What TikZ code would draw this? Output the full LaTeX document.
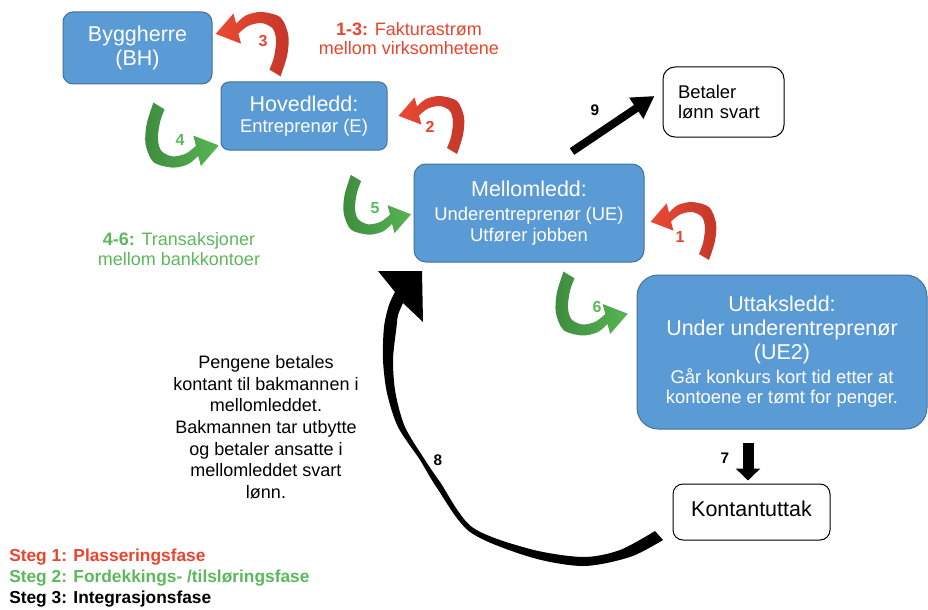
\documentclass[tikz,border=0pt]{standalone}
\usepackage{fontspec}
\setmainfont{Liberation Sans}
\usetikzlibrary{arrows.meta,calc}
\definecolor{boxblue}{HTML}{5B9BD5}
\definecolor{boxedge}{HTML}{41719C}
\definecolor{myred}{HTML}{EA4A33}
\definecolor{myreddark}{HTML}{C4372A}
\definecolor{mygreen}{HTML}{58B454}
\definecolor{mygreendark}{HTML}{3E8C3E}
\definecolor{labred}{HTML}{E8442E}
\definecolor{labgreen}{HTML}{5CB85C}
\newcommand\txtH{\fontsize{16.1pt}{18pt}\selectfont}
\newcommand\txtS{\fontsize{13.8pt}{15.4pt}\selectfont}
\def\redarrowpath{(5,3) -- plot[smooth] coordinates {(5,3) (11,-16) (12,-34) (5,-50) (-12,-55) (-26,-52) (-35,-44.5)} -- (-37.4,-53.6) -- (-53.4,-35.2) -- (-30.6,-26.4) -- (-33,-35.5) -- plot[smooth] coordinates {(-33,-35.5) (-24,-42.5) (-12,-45) (-2,-40) (1,-29) (-1,-14) (-5,-3)} -- cycle}
\begin{document}
\begin{tikzpicture}[x=0.75pt,y=-0.75pt,
  bluebox/.style={draw=boxedge, line width=0.75pt, fill=boxblue, text=white, align=center, inner sep=0pt},
  whitebox/.style={draw=black, line width=0.75pt, fill=white, inner sep=0pt},
  numred/.style={text=labred, font=\bfseries\fontsize{12pt}{14pt}\selectfont, inner sep=0pt},
  numgreen/.style={text=labgreen, font=\bfseries\fontsize{12pt}{14pt}\selectfont, inner sep=0pt},
  numblack/.style={text=black, font=\bfseries\fontsize{11.5pt}{14pt}\selectfont, inner sep=0pt},
  redcurve/.style={left color=myred, right color=myreddark},
  greencurve/.style={left color=mygreendark, right color=mygreen},
  blackarrow9/.style={line width=6pt, -{Triangle[width=18pt,length=16.5pt]}},
  blackarrow7/.style={line width=8.25pt, -{Triangle[width=18pt,length=9pt]}}]
\useasboundingbox (0,0) rectangle (928,610);

% boxes
\node[bluebox, minimum width=111.75pt, minimum height=54pt, rounded corners=7.5pt, font=\txtH] (bh) at (137.5,48) {Byggherre\\(BH)};
\node[bluebox, minimum width=124.5pt, minimum height=51pt, rounded corners=6pt, font=\txtS] (hoved) at (304,116) {{\txtH Hovedledd:}\\Entreprenør (E)};
\node[bluebox, minimum width=172.5pt, minimum height=73.5pt, rounded corners=9pt, font=\txtS] (mellom) at (529,213) {{\txtH Mellomledd:}\\[2.5pt]Underentreprenør (UE)\\Utfører jobben};
\node[bluebox, minimum width=217.5pt, minimum height=115.5pt, rounded corners=16pt, font=\txtS] (utt) at (782,352) {{\txtH Uttaksledd:}\\[2.5pt]{\txtH Under underentreprenør}\\[2.5pt]{\txtH (UE2)}\\[2.5pt]Går konkurs kort tid etter at\\kontoene er tømt for penger.};
\node[whitebox, minimum width=90.75pt, minimum height=52.5pt, rounded corners=9pt, text width=68.25pt, align=left, font=\txtS] (betaler) at (723.5,102) {Betaler\\lønn svart};
\node[whitebox, minimum width=117.75pt, minimum height=42pt, rounded corners=7.5pt, font=\txtH] (kont) at (751.5,512) {\raisebox{4.5pt}{Kontantuttak}};

% annotations
\node[text=labred, align=center, inner sep=0pt, font=\fontsize{13.5pt}{14.3pt}\selectfont] (note13) at (409,39) {\textbf{1-3:} Fakturastrøm\\mellom virksomhetene};
\node[text=labgreen, align=center, inner sep=0pt, font=\fontsize{13.5pt}{15pt}\selectfont] (note46) at (179,249) {\textbf{4-6:} Transaksjoner\\mellom bankkontoer};
\node[align=center, inner sep=0pt, font=\fontsize{13.5pt}{16.25pt}\selectfont] (para) at (266,427) {Pengene betales\\kontant til bakmannen i\\mellomleddet.\\Bakmannen tar utbytte\\og betaler ansatte i\\mellomleddet svart\\lønn.};
\node[anchor=west, align=left, inner sep=0pt, font=\bfseries\fontsize{13pt}{16pt}\selectfont] (legend) at (9,578) {{\color{labred}Steg 1: Plasseringsfase}\\{\color{labgreen}Steg 2: Fordekkings- /tilsløringsfase}\\Steg 3: Integrasjonsfase};

% red curved arrows
\begin{scope}[shift={(704,257)}]
  \shade[redcurve] \redarrowpath;
\end{scope}
\begin{scope}[shift={(452,151)}]
  \shade[redcurve] \redarrowpath;
\end{scope}
\begin{scope}[shift={(275,73)}, scale=1.11]
  \shade[redcurve] \redarrowpath;
\end{scope}
% green curved arrows
\begin{scope}[shift={(159,106)}, rotate=180, scale=1.12]
  \shade[greencurve] \redarrowpath;
\end{scope}
\begin{scope}[shift={(356,178)}, rotate=180, scale=1.03]
  \shade[greencurve] \redarrowpath;
\end{scope}
\begin{scope}[shift={(569,275)}, rotate=180, scale=1.1]
  \shade[greencurve] \redarrowpath;
\end{scope}

\node[numred] (n3) at (263,41) {3};
\node[numred] (n2) at (430,127) {2};
\node[numred] (n1) at (680,237) {1};
\node[numgreen] (n4) at (180,140) {4};
\node[numgreen] (n5) at (375,208) {5};
\node[numgreen] (n6) at (597,307) {6};

% arrow 9
\draw[blackarrow9] ($(mellom.north)+(43,-12)$) -- ($(betaler.west)+(-8,-6)$);
\node[numblack] (n9) at (595,110) {9};
% arrow 7
\draw[blackarrow7] ($(kont.north |- utt.south)+(-3.5,13)$) -- ($(kont.north)+(-3.5,-3)$);
\node[numblack] (n7) at (725,458) {7};
% arrow 8 (crescent)
\fill[black] (663,540) -- plot[smooth] coordinates {(663,540) (630,557) (583,566) (530,557) (470,532) (437,488) (420,460) (398,427) (387,393) (383,360) (384,327) (389,305) (395,292)} -- (378,271) -- (422,271) -- (423,322) -- (403,303) -- plot[smooth] coordinates {(403,303) (398,315) (396.5,327) (393,360) (395.5,393) (405,427) (425,460) (440,482) (472,527) (530,549) (583,557) (620,550) (655,531)} -- cycle;
\node[numblack] (n8) at (438,460) {8};
\end{tikzpicture}
\end{document}
